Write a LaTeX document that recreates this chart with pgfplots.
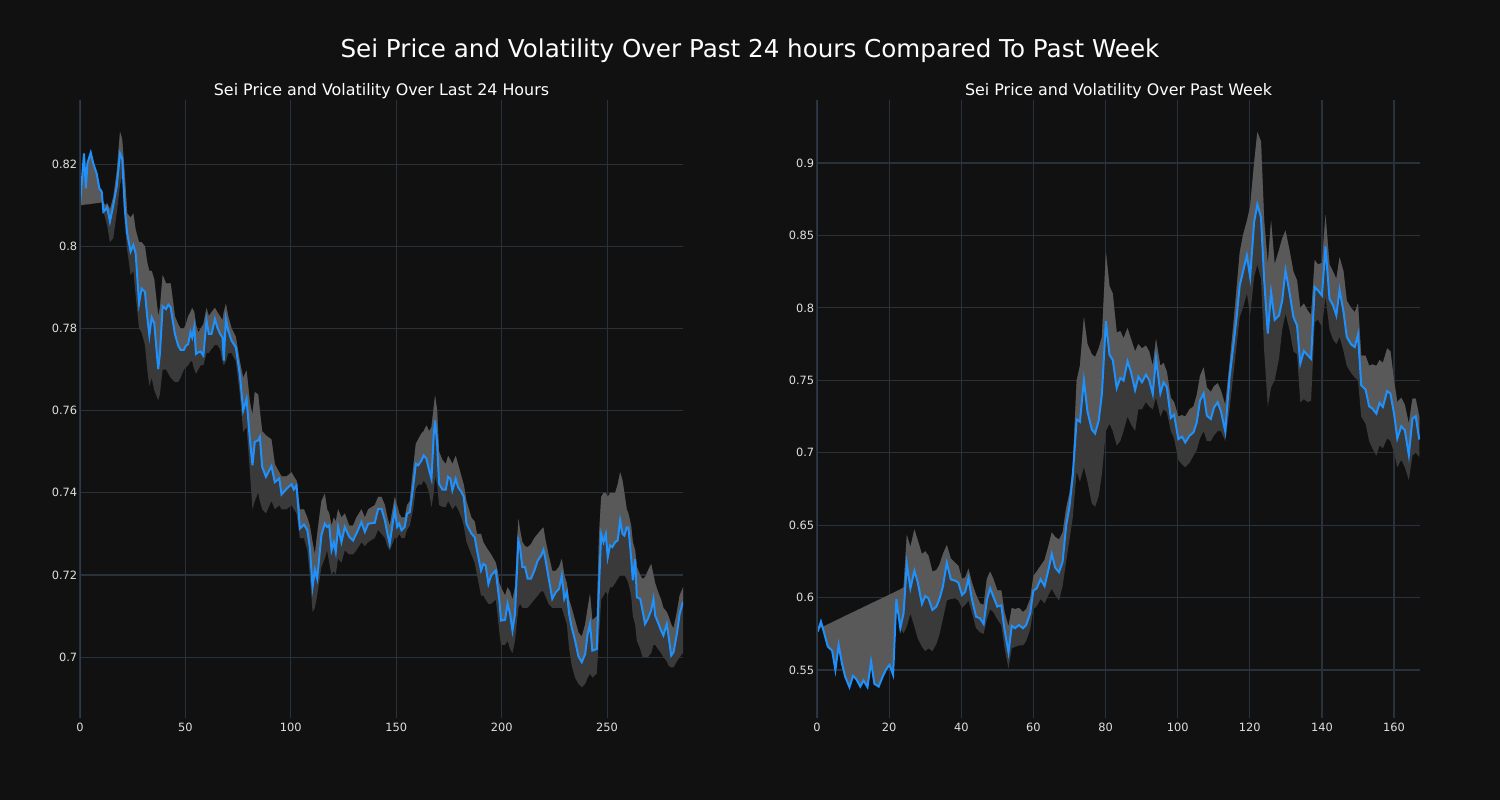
\documentclass[border=0pt]{standalone}
\usepackage{fontspec}
\setmainfont{DejaVu Sans}
\usepackage{pgfplots}
\usepackage{pgfplotstable}
\pgfplotsset{compat=1.18}
\usepgfplotslibrary{fillbetween}
\definecolor{bg}{HTML}{111111}
\definecolor{gridc}{HTML}{29313D}
\definecolor{spinec}{HTML}{2E3A48}
\definecolor{lineblue}{HTML}{1E90FF}
\definecolor{lightband}{HTML}{595959}
\definecolor{darkband}{HTML}{3A3A3A}
\definecolor{tickc}{HTML}{E0E0E0}
\pagecolor{bg}

\pgfplotstableread{
x p lo hi
0 0.8100 0.8100 0.8100
1.9 0.8226 0.8101 0.8101
2.8 0.8141 0.8102 0.8102
3.5 0.8202 0.8102 0.8102
5.1 0.8228 0.8103 0.8103
6.3 0.8202 0.8104 0.8104
7.9 0.8177 0.8105 0.8105
9.2 0.8141 0.8106 0.8106
10.3 0.8133 0.8107 0.8107
11.1 0.8084 0.8084 0.8108
11.9 0.8088 0.8070 0.8100
12.9 0.8095 0.8050 0.8105
14.2 0.8060 0.8010 0.8090
15.8 0.8100 0.8020 0.8120
17.4 0.8145 0.8080 0.8180
19.0 0.8226 0.8150 0.8279
20.0 0.8214 0.8170 0.8260
21.3 0.8088 0.8050 0.8170
22.4 0.8031 0.7990 0.8080
24.0 0.7987 0.7930 0.8070
25.3 0.8003 0.7940 0.8080
26.4 0.7983 0.7880 0.8040
28.0 0.7861 0.7800 0.8010
29.2 0.7897 0.7790 0.8010
30.8 0.7889 0.7760 0.8000
31.9 0.7828 0.7700 0.7960
32.9 0.7783 0.7660 0.7940
34.0 0.7827 0.7680 0.7940
35.2 0.7813 0.7650 0.7920
37.1 0.7701 0.7625 0.7830
37.9 0.7738 0.7640 0.7850
39.2 0.7854 0.7700 0.7930
40.8 0.7847 0.7700 0.7910
41.9 0.7858 0.7690 0.7910
43.0 0.7851 0.7680 0.7910
45.0 0.7787 0.7670 0.7830
46.6 0.7758 0.7670 0.7810
47.7 0.7748 0.7680 0.7800
49.3 0.7748 0.7700 0.7800
50.2 0.7758 0.7705 0.7810
51.3 0.7762 0.7710 0.7830
52.4 0.7791 0.7720 0.7840
53.2 0.7778 0.7720 0.7850
54.2 0.7804 0.7700 0.7840
55.0 0.7738 0.7690 0.7810
56.1 0.7742 0.7700 0.7790
57.2 0.7744 0.7710 0.7800
58.5 0.7734 0.7710 0.7810
60.0 0.7819 0.7740 0.7850
61.1 0.7787 0.7740 0.7830
62.4 0.7787 0.7750 0.7840
64.0 0.7823 0.7760 0.7850
65.1 0.7803 0.7760 0.7840
66.4 0.7787 0.7750 0.7830
67.6 0.7778 0.7720 0.7820
68.2 0.7722 0.7710 0.7840
69.2 0.7823 0.7720 0.7860
70.3 0.7795 0.7740 0.7830
71.9 0.7770 0.7740 0.7800
73.9 0.7754 0.7720 0.7780
75.8 0.7689 0.7640 0.7720
77.4 0.7600 0.7548 0.7680
79.0 0.7629 0.7560 0.7698
80.6 0.7528 0.7450 0.7620
81.8 0.7467 0.7360 0.7590
82.9 0.7524 0.7380 0.7645
84.5 0.7528 0.7400 0.7640
85.3 0.7536 0.7380 0.7600
86.4 0.7463 0.7360 0.7550
88.2 0.7439 0.7350 0.7540
90.8 0.7465 0.7380 0.7530
92.4 0.7426 0.7360 0.7470
94.5 0.7435 0.7370 0.7450
95.6 0.7396 0.7360 0.7440
98.0 0.7410 0.7360 0.7440
100.3 0.7421 0.7370 0.7450
101.4 0.7408 0.7360 0.7440
102.7 0.7418 0.7350 0.7430
104.3 0.7313 0.7290 0.7360
106.2 0.7323 0.7290 0.7360
107.8 0.7309 0.7260 0.7340
109.0 0.7268 0.7200 0.7320
110.3 0.7171 0.7110 0.7280
111.4 0.7212 0.7120 0.7250
112.5 0.7191 0.7150 0.7300
114.5 0.7297 0.7220 0.7380
116.1 0.7325 0.7240 0.7398
117.2 0.7317 0.7260 0.7360
118.2 0.7321 0.7230 0.7350
119.3 0.7260 0.7200 0.7320
120.4 0.7280 0.7210 0.7340
121.3 0.7256 0.7200 0.7330
122.4 0.7317 0.7240 0.7360
124.0 0.7280 0.7230 0.7340
125.6 0.7317 0.7260 0.7350
127.7 0.7293 0.7250 0.7320
129.5 0.7284 0.7250 0.7320
131.1 0.7301 0.7260 0.7340
133.5 0.7329 0.7280 0.7360
135.1 0.7305 0.7270 0.7340
136.7 0.7325 0.7280 0.7360
139.8 0.7327 0.7290 0.7370
141.4 0.7361 0.7310 0.7390
143.0 0.7361 0.7300 0.7390
144.6 0.7333 0.7290 0.7370
145.8 0.7301 0.7270 0.7340
146.9 0.7276 0.7260 0.7320
149.3 0.7361 0.7290 0.7390
150.4 0.7317 0.7290 0.7370
151.4 0.7325 0.7300 0.7350
152.5 0.7309 0.7290 0.7340
154.0 0.7317 0.7290 0.7340
155.1 0.7349 0.7310 0.7370
156.4 0.7353 0.7320 0.7380
158.0 0.7414 0.7360 0.7460
159.3 0.7471 0.7410 0.7520
160.4 0.7467 0.7420 0.7530
162.0 0.7479 0.7420 0.7545
163.0 0.7491 0.7430 0.7550
164.3 0.7483 0.7420 0.7564
165.6 0.7455 0.7400 0.7550
166.7 0.7434 0.7365 0.7560
167.8 0.7544 0.7400 0.7610
168.4 0.7576 0.7440 0.7637
169.4 0.7520 0.7420 0.7600
170.3 0.7422 0.7370 0.7500
171.9 0.7408 0.7366 0.7480
173.5 0.7408 0.7366 0.7470
174.6 0.7439 0.7380 0.7490
175.7 0.7434 0.7370 0.7480
176.6 0.7406 0.7360 0.7470
178.2 0.7434 0.7370 0.7490
179.3 0.7414 0.7360 0.7470
180.9 0.7402 0.7340 0.7440
182.0 0.7390 0.7320 0.7420
183.3 0.7325 0.7280 0.7380
185.6 0.7301 0.7250 0.7340
187.2 0.7292 0.7230 0.7330
188.3 0.7260 0.7200 0.7300
190.2 0.7211 0.7150 0.7300
191.3 0.7227 0.7150 0.7280
192.4 0.7223 0.7140 0.7270
193.7 0.7178 0.7130 0.7260
195.0 0.7199 0.7130 0.7250
197.2 0.7211 0.7140 0.7230
198.1 0.7170 0.7100 0.7210
198.9 0.7138 0.7060 0.7180
199.7 0.7089 0.7030 0.7170
201.6 0.7091 0.7030 0.7150
202.8 0.7130 0.7040 0.7170
204.0 0.7105 0.7020 0.7160
205.1 0.7065 0.7010 0.7140
206.3 0.7105 0.7040 0.7170
207.9 0.7284 0.7120 0.7337
208.7 0.7268 0.7130 0.7310
209.8 0.7219 0.7120 0.7280
211.1 0.7219 0.7120 0.7270
212.3 0.7191 0.7120 0.7268
213.9 0.7191 0.7130 0.7275
215.5 0.7211 0.7140 0.7290
217.1 0.7235 0.7150 0.7300
218.7 0.7247 0.7160 0.7310
219.8 0.7261 0.7160 0.7316
220.6 0.7243 0.7150 0.7290
222.2 0.7195 0.7130 0.7250
224.0 0.7142 0.7120 0.7210
225.6 0.7158 0.7120 0.7210
227.2 0.7166 0.7120 0.7220
228.5 0.7199 0.7120 0.7239
229.7 0.7142 0.7100 0.7200
230.9 0.7158 0.7080 0.7180
232.0 0.7105 0.7020 0.7140
233.2 0.7073 0.6980 0.7120
234.8 0.7041 0.6950 0.7090
236.4 0.7002 0.6935 0.7060
238.0 0.6988 0.6927 0.7050
239.6 0.7008 0.6935 0.7080
240.8 0.7057 0.6950 0.7120
241.9 0.7081 0.6960 0.7154
243.0 0.7016 0.6950 0.7090
245.1 0.7020 0.6960 0.7100
246.2 0.7178 0.7050 0.7300
247.2 0.7300 0.7140 0.7390
248.3 0.7280 0.7150 0.7400
249.4 0.7300 0.7160 0.7400
250.3 0.7243 0.7150 0.7390
251.4 0.7272 0.7170 0.7400
252.5 0.7268 0.7170 0.7400
253.8 0.7280 0.7180 0.7400
255.0 0.7284 0.7190 0.7420
256.2 0.7333 0.7200 0.7450
257.3 0.7300 0.7200 0.7430
258.2 0.7296 0.7200 0.7400
259.3 0.7316 0.7190 0.7360
260.1 0.7316 0.7180 0.7350
261.4 0.7243 0.7150 0.7320
262.2 0.7187 0.7100 0.7280
263.3 0.7239 0.7080 0.7260
264.1 0.7146 0.7040 0.7220
265.7 0.7142 0.7020 0.7200
266.8 0.7114 0.7000 0.7190
268.0 0.7081 0.7000 0.7195
269.3 0.7093 0.7000 0.7210
270.9 0.7114 0.7010 0.7227
272.0 0.7142 0.7030 0.7200
272.8 0.7101 0.7030 0.7180
274.1 0.7085 0.7020 0.7160
275.6 0.7065 0.7010 0.7140
276.7 0.7053 0.7000 0.7120
278.3 0.7081 0.6990 0.7110
279.1 0.7053 0.6980 0.7100
280.4 0.7004 0.6975 0.7080
281.5 0.7012 0.6975 0.7070
283.1 0.7057 0.6990 0.7110
284.4 0.7105 0.7000 0.7150
286.0 0.7135 0.7010 0.7170
}\lefttab

\pgfplotstableread{
x p lo hi
0.2 0.5766 0.5782 0.5782
1.1 0.5834 0.5793 0.5793
2.0 0.5754 0.5804 0.5804
3.0 0.5662 0.5816 0.5816
4.2 0.5634 0.5830 0.5830
5.1 0.5501 0.5841 0.5841
6.0 0.5674 0.5852 0.5852
6.9 0.5547 0.5863 0.5863
7.8 0.5455 0.5874 0.5874
9.0 0.5382 0.5888 0.5888
10.0 0.5460 0.5900 0.5900
10.9 0.5437 0.5911 0.5911
12.0 0.5386 0.5924 0.5924
12.9 0.5428 0.5935 0.5935
14.0 0.5382 0.5948 0.5948
15.0 0.5559 0.5960 0.5960
15.9 0.5405 0.5971 0.5971
17.1 0.5386 0.5985 0.5985
18.3 0.5460 0.6000 0.6000
19.2 0.5506 0.6010 0.6010
20.1 0.5536 0.6021 0.6021
21.1 0.5467 0.6033 0.6033
22.0 0.5989 0.6044 0.6044
23.1 0.5789 0.5789 0.6057
24.0 0.5892 0.5754 0.6071
24.9 0.6232 0.5800 0.6432
25.9 0.6064 0.5890 0.6350
27.0 0.6186 0.5800 0.6471
27.9 0.6110 0.5720 0.6400
29.1 0.5956 0.5660 0.6300
30.0 0.6011 0.5630 0.6320
30.9 0.5995 0.5650 0.6290
32.0 0.5915 0.5630 0.6180
33.1 0.5938 0.5680 0.6190
34.0 0.5995 0.5750 0.6230
34.9 0.6076 0.5850 0.6300
36.0 0.6241 0.5980 0.6363
37.1 0.6126 0.5990 0.6270
38.3 0.6117 0.5995 0.6240
39.2 0.6103 0.5980 0.6220
40.2 0.6018 0.5930 0.6130
41.1 0.6041 0.5950 0.6140
42.0 0.6133 0.5980 0.6200
42.9 0.5995 0.5900 0.6110
44.1 0.5869 0.5790 0.6020
45.2 0.5857 0.5760 0.5960
46.2 0.5818 0.5750 0.5950
47.1 0.5984 0.5850 0.6130
48.0 0.6064 0.5920 0.6180
48.9 0.6007 0.5900 0.6130
50.0 0.5938 0.5850 0.6050
51.1 0.5947 0.5810 0.6050
52.0 0.5777 0.5650 0.5900
53.1 0.5621 0.5510 0.5800
54.0 0.5805 0.5650 0.5930
54.9 0.5789 0.5660 0.5920
56.0 0.5811 0.5670 0.5930
57.1 0.5789 0.5670 0.5900
58.0 0.5811 0.5700 0.5920
59.1 0.5892 0.5780 0.5990
60.0 0.6048 0.5920 0.6150
60.9 0.6064 0.5940 0.6180
62.0 0.6126 0.5990 0.6220
63.1 0.6080 0.5960 0.6260
64.2 0.6195 0.6020 0.6360
65.1 0.6301 0.6060 0.6450
66.0 0.6209 0.6020 0.6420
67.1 0.6175 0.5980 0.6400
68.1 0.6248 0.6080 0.6450
69.1 0.6501 0.6250 0.6620
70.0 0.6628 0.6400 0.6720
70.9 0.6834 0.6550 0.6900
72.0 0.7230 0.6870 0.7500
72.9 0.7214 0.6800 0.7600
74.0 0.7501 0.6900 0.7935
75.0 0.7283 0.6800 0.7750
76.2 0.7161 0.6650 0.7680
77.1 0.7133 0.6627 0.7660
78.1 0.7221 0.6700 0.7720
79.0 0.7406 0.6850 0.7800
80.1 0.7908 0.7150 0.8385
81.1 0.7677 0.7200 0.8150
82.0 0.7641 0.7150 0.8100
83.1 0.7447 0.7050 0.7830
84.1 0.7516 0.7080 0.7840
85.0 0.7498 0.7150 0.7790
86.1 0.7631 0.7250 0.7860
87.0 0.7562 0.7200 0.7790
88.2 0.7433 0.7150 0.7700
89.1 0.7525 0.7300 0.7750
90.1 0.7486 0.7300 0.7720
91.2 0.7539 0.7350 0.7740
92.1 0.7502 0.7320 0.7700
93.1 0.7406 0.7300 0.7600
94.0 0.7654 0.7380 0.7786
95.2 0.7410 0.7250 0.7600
96.1 0.7486 0.7300 0.7620
97.0 0.7452 0.7280 0.7560
98.1 0.7240 0.7150 0.7380
99.0 0.7263 0.7100 0.7350
100.2 0.7094 0.6950 0.7250
101.2 0.7111 0.6920 0.7260
102.1 0.7071 0.6900 0.7250
103.3 0.7118 0.6930 0.7300
104.4 0.7141 0.6980 0.7320
105.3 0.7210 0.7020 0.7400
106.2 0.7360 0.7100 0.7530
107.2 0.7410 0.7150 0.7590
108.1 0.7256 0.7080 0.7450
109.2 0.7233 0.7080 0.7420
110.1 0.7313 0.7120 0.7460
111.1 0.7348 0.7150 0.7480
112.0 0.7286 0.7150 0.7430
113.2 0.7147 0.7080 0.7330
114.4 0.7521 0.7300 0.7620
115.5 0.7751 0.7550 0.7900
116.4 0.7947 0.7750 0.8150
117.2 0.8154 0.7935 0.8380
118.1 0.8247 0.8000 0.8500
119.2 0.8362 0.8100 0.8600
120.1 0.8212 0.7950 0.8700
121.2 0.8592 0.8212 0.9000
122.1 0.8714 0.8300 0.9214
123.1 0.8627 0.8200 0.9150
124.0 0.8189 0.7700 0.8600
125.0 0.7822 0.7316 0.8300
125.9 0.8109 0.7450 0.8603
126.9 0.7918 0.7500 0.8300
128.1 0.7948 0.7650 0.8400
129.0 0.8052 0.7850 0.8480
129.9 0.8259 0.7960 0.8534
131.0 0.8109 0.7850 0.8400
132.1 0.7937 0.7700 0.8250
133.1 0.7879 0.7680 0.8190
134.0 0.7615 0.7350 0.8000
135.0 0.7702 0.7370 0.8030
136.1 0.7672 0.7350 0.7980
137.0 0.7649 0.7360 0.7950
138.0 0.8144 0.7900 0.8330
138.9 0.8121 0.7920 0.8300
140.0 0.8086 0.7870 0.8310
141.0 0.8424 0.8075 0.8640
142.1 0.8063 0.7850 0.8300
143.1 0.8017 0.7780 0.8250
144.0 0.7948 0.7750 0.8200
144.9 0.8125 0.7800 0.8350
146.0 0.7971 0.7700 0.8250
146.9 0.7799 0.7600 0.8050
148.1 0.7748 0.7550 0.8000
149.1 0.7730 0.7520 0.7970
150.0 0.7817 0.7500 0.8030
150.9 0.7466 0.7250 0.7670
152.1 0.7436 0.7200 0.7670
153.1 0.7321 0.7080 0.7600
154.0 0.7305 0.7030 0.7610
155.1 0.7270 0.6980 0.7600
156.0 0.7344 0.7050 0.7640
156.9 0.7316 0.7030 0.7620
158.1 0.7426 0.7100 0.7720
159.0 0.7408 0.7080 0.7700
160.0 0.7270 0.7000 0.7500
160.9 0.7098 0.6900 0.7350
162.0 0.7183 0.6950 0.7380
163.0 0.7155 0.6900 0.7330
164.1 0.6983 0.6810 0.7200
165.1 0.7236 0.6980 0.7374
166.0 0.7252 0.7000 0.7374
167.0 0.7091 0.6970 0.7250
}\righttab

\pgfplotsset{
  seistyle/.style={
    scale only axis, width=301.5pt, height=309pt, anchor=south west,
    axis line style={draw=none},
    major tick length=0pt,
    grid=major, major grid style={draw=gridc, line width=0.6pt},
    tick label style={font=\fontsize{5.7}{6.8}\selectfont, text=tickc},
    /pgf/number format/assume math mode=true,
    yticklabel style={/pgf/number format/fixed, /pgf/number format/precision=2, inner sep=1.2pt},
    xticklabel style={inner sep=2.5pt},
    scaled y ticks=false, scaled x ticks=false,
    title style={font=\fontsize{7.95}{9.5}\selectfont, text=white, at={(0.5,1)}, anchor=base, yshift=-3.9pt},
    clip=true,
  },
}

\begin{document}%
\begin{tikzpicture}
\path (0,0) rectangle (750pt,400pt);
\node[anchor=base, text=white, font=\fontsize{12.3}{14.8}\selectfont] at (375pt,371pt) {Sei Price and Volatility Over Past 24 hours Compared To Past Week};

\begin{axis}[seistyle, at={(40pt,41pt)},
  xmin=0, xmax=286, ymin=0.6852, ymax=0.8356,
  xtick={0,50,100,150,200,250},
  ytick={0.70,0.72,0.74,0.76,0.78,0.80,0.82},
  title={Sei Price and Volatility Over Last 24 Hours}]
\addplot[draw=none, forget plot, name path=Lhi] table[x=x,y=hi]{\lefttab};
\addplot[draw=none, forget plot, name path=Llo] table[x=x,y=lo]{\lefttab};
\addplot[draw=none, forget plot, name path=Lp] table[x=x,y=p]{\lefttab};
\addplot[fill=darkband, draw=none] fill between[of=Llo and Lhi];
\addplot[fill=lightband, draw=none] fill between[of=Lp and Lhi];
\addplot[line width=1pt, color=lineblue] table[x=x,y=p]{\lefttab};
\draw[spinec, line width=0.8pt] (rel axis cs:0,0) -- (rel axis cs:0,1);
\end{axis}

\begin{axis}[seistyle, at={(408.5pt,41pt)},
  xmin=0, xmax=167.2, ymin=0.5169, ymax=0.9435,
  xtick={0,20,40,60,80,100,120,140,160},
  ytick={0.55,0.6,0.65,0.7,0.75,0.8,0.85,0.9},
  title={Sei Price and Volatility Over Past Week}]
\addplot[draw=none, forget plot, name path=Rhi] table[x=x,y=hi]{\righttab};
\addplot[draw=none, forget plot, name path=Rlo] table[x=x,y=lo]{\righttab};
\addplot[draw=none, forget plot, name path=Rp] table[x=x,y=p]{\righttab};
\addplot[fill=darkband, draw=none] fill between[of=Rlo and Rhi];
\addplot[fill=lightband, draw=none] fill between[of=Rp and Rhi];
\addplot[line width=1pt, color=lineblue] table[x=x,y=p]{\righttab};
\draw[spinec, line width=0.8pt] (rel axis cs:0,0) -- (rel axis cs:0,1);
\end{axis}
\end{tikzpicture}%
\end{document}
